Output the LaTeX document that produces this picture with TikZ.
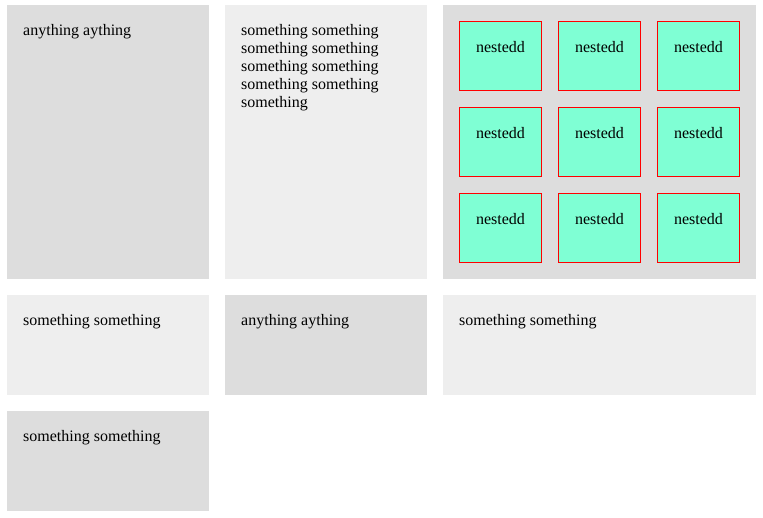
\documentclass[tikz,border=0pt]{standalone}
\usepackage{fontspec}
\setmainfont{Liberation Serif}
\definecolor{greyA}{HTML}{DDDDDD}
\definecolor{greyB}{HTML}{EEEEEE}
\definecolor{aqua}{HTML}{7FFFD4}
\tikzset{
  cellA/.style={fill=greyA, draw=none},
  cellB/.style={fill=greyB, draw=none},
  txt/.style={anchor=base west, inner sep=0pt, font=\fontsize{16}{18}\selectfont},
  nest/.style={fill=aqua, draw=red, line width=1pt, minimum width=82pt, minimum height=69pt, inner sep=0pt, outer sep=0pt, anchor=north west},
  nesttxt/.style={anchor=base, inner sep=0pt, font=\fontsize{16}{18}\selectfont}
}
\begin{document}
\begin{tikzpicture}[x=1pt,y=-1pt]
\useasboundingbox (0,0) rectangle (763,517);
% row 1
\fill[cellA] (7,5) rectangle (209,279);
\node[txt] (t1) at (23,35) {anything aything};
\fill[cellB] (225,5) rectangle (427,279);
\node[anchor=north west, inner sep=0pt, align=left, font=\fontsize{16}{18}\selectfont] (t2) at (241,24.1)
  {something something\\something something\\something something\\something something\\something};
\fill[cellA] (443,5) rectangle (756,279);
\foreach \r/\yy in {0/21.5,1/107.5,2/193.5}{
  \foreach \c/\xx in {0/459.5,1/558.5,2/657.5}{
    \node[nest] (n\r\c) at (\xx,\yy) {};
    \node[nesttxt] (nt\r\c) at (\xx+41,\yy+30.5) {nestedd};
  }
}
% row 2
\fill[cellB] (7,295) rectangle (209,395);
\node[txt] (t4) at (23,325) {something something};
\fill[cellA] (225,295) rectangle (427,395);
\node[txt] (t5) at (241,325) {anything aything};
\fill[cellB] (443,295) rectangle (756,395);
\node[txt] (t6) at (459,325) {something something};
% row 3
\fill[cellA] (7,411) rectangle (209,511);
\node[txt] (t7) at (23,441) {something something};
\end{tikzpicture}
\end{document}
